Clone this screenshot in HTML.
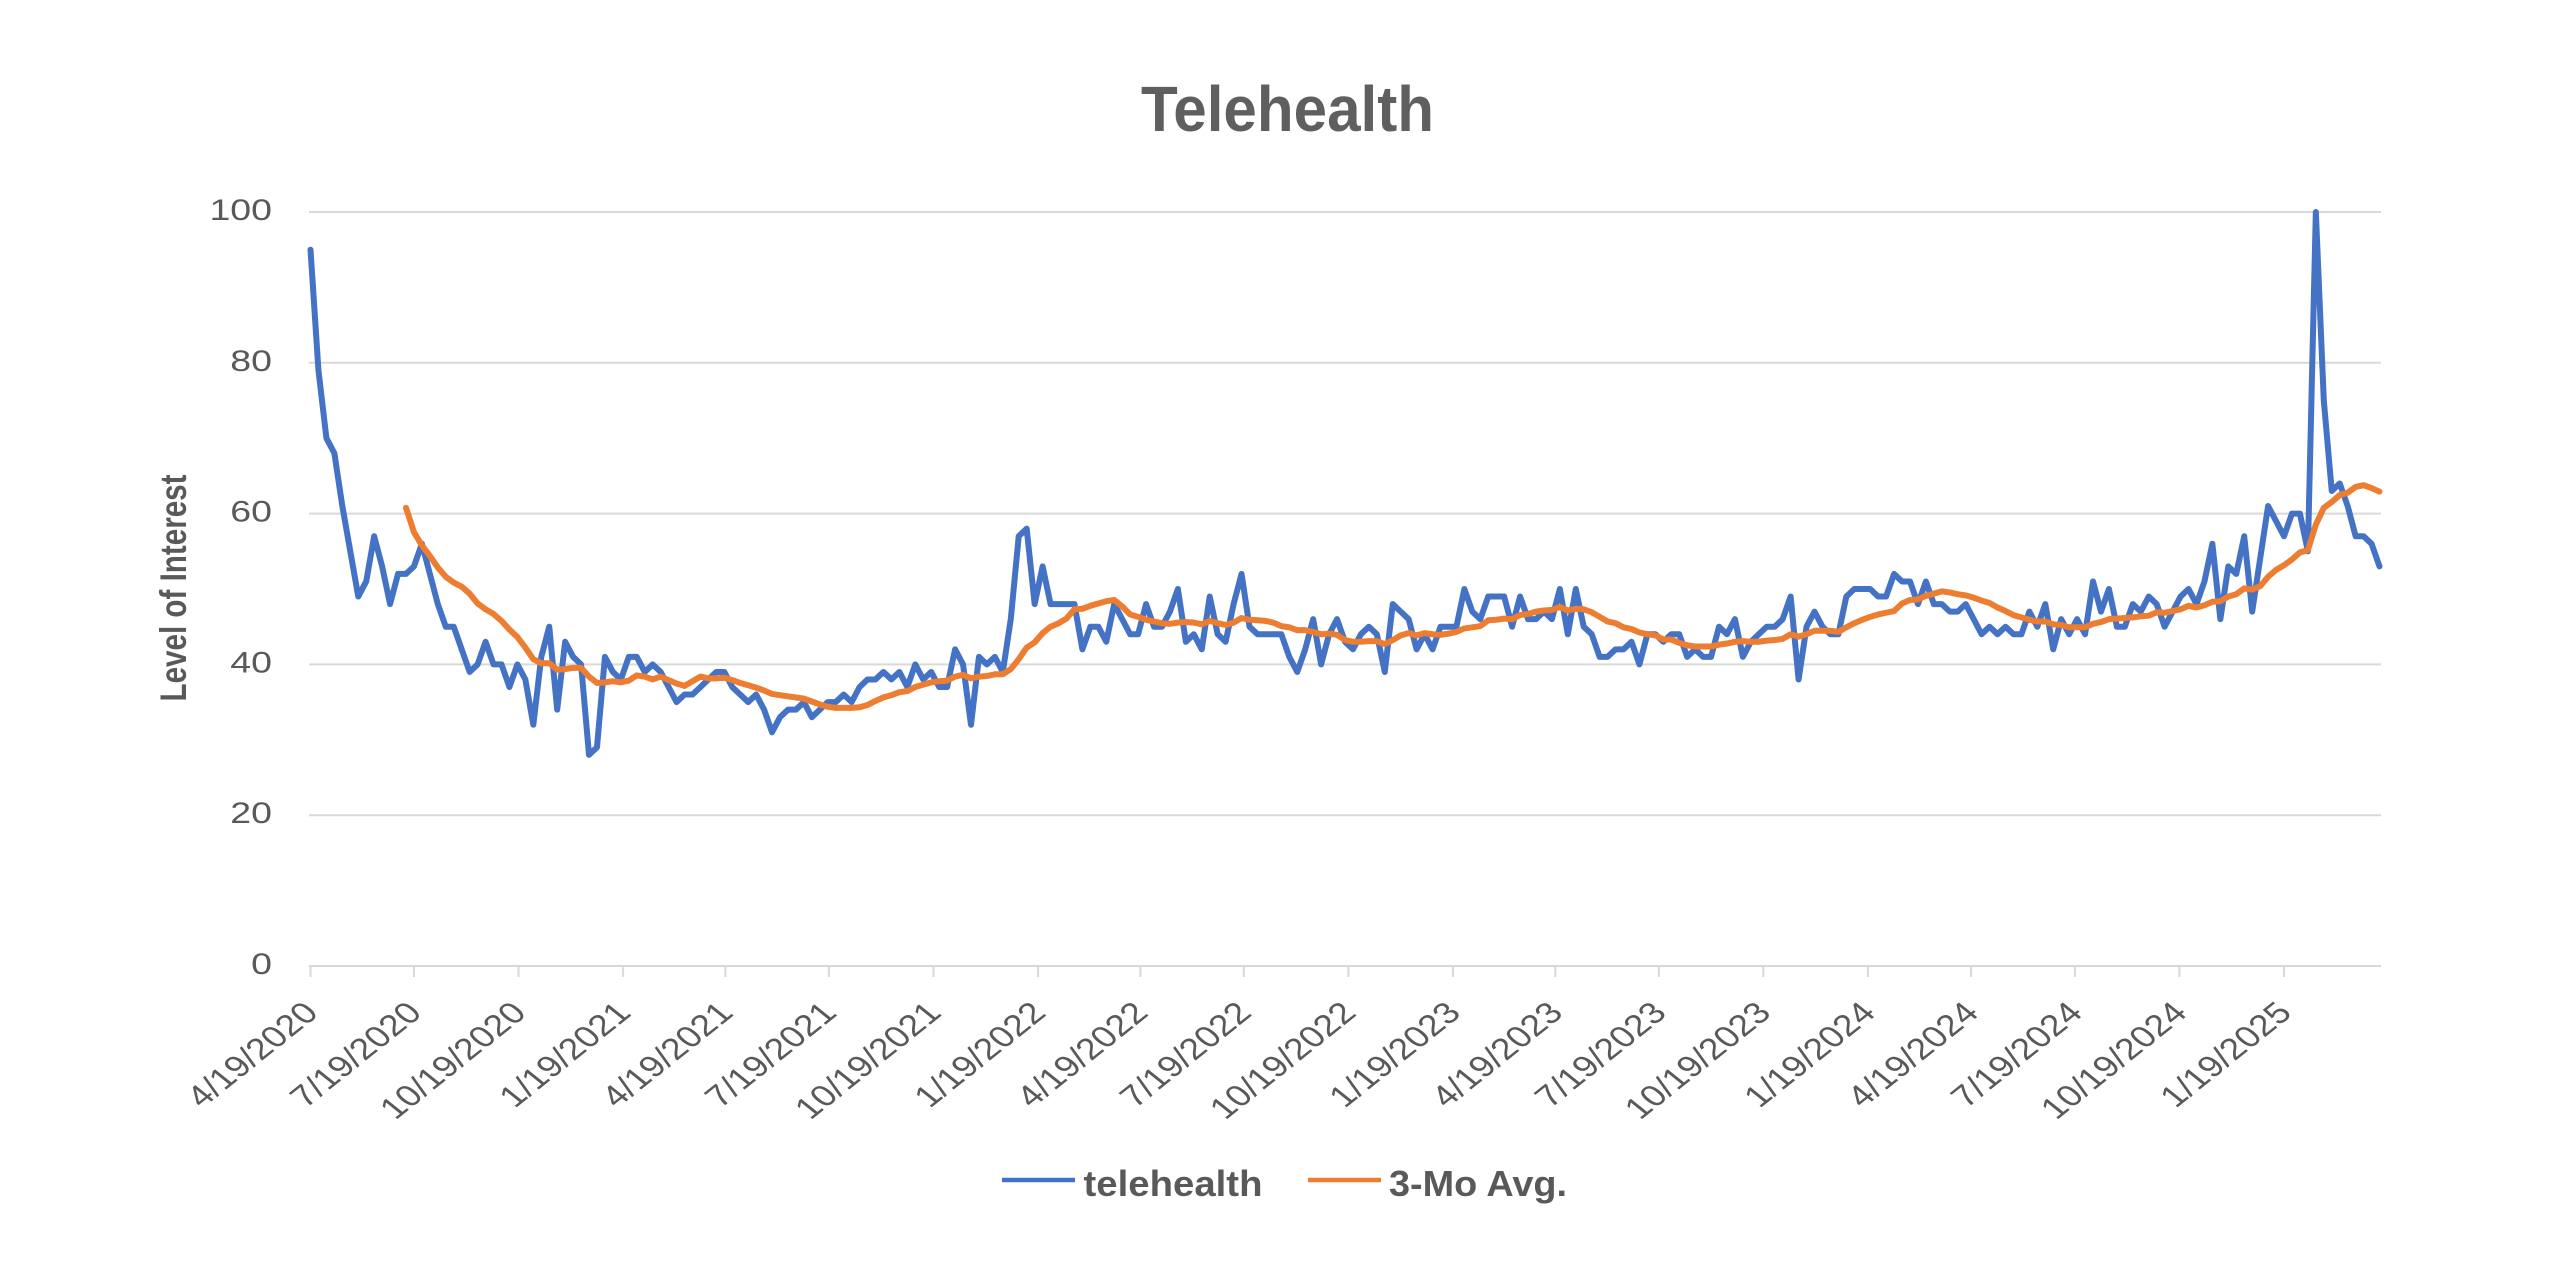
<!DOCTYPE html>
<html>
<head>
<meta charset="utf-8">
<style>
  html,body{margin:0;padding:0;background:#ffffff;}
  svg{display:block;}
  text{font-family:"Liberation Sans", Arial, sans-serif;}
</style>
</head>
<body>
<svg width="2560" height="1284" viewBox="0 0 2560 1284" xmlns="http://www.w3.org/2000/svg">
  <rect x="0" y="0" width="2560" height="1284" fill="#ffffff"/>

  <!-- Title -->
  <text x="1141" y="131" font-size="64" font-weight="bold" fill="#5f5f5f" textLength="293" lengthAdjust="spacingAndGlyphs">Telehealth</text>

  <!-- Gridlines -->
  <g stroke="#d9d9d9" stroke-width="2">
    <line x1="309" y1="212" x2="2381" y2="212"/>
    <line x1="309" y1="362.8" x2="2381" y2="362.8"/>
    <line x1="309" y1="513.6" x2="2381" y2="513.6"/>
    <line x1="309" y1="664.4" x2="2381" y2="664.4"/>
    <line x1="309" y1="815.2" x2="2381" y2="815.2"/>
    <line x1="309" y1="966" x2="2381" y2="966"/>
  </g>

  <!-- X tick marks -->
  <g stroke="#d9d9d9" stroke-width="2">
    <line x1="310.5" y1="966" x2="310.5" y2="977"/>
    <line x1="414" y1="966" x2="414" y2="977"/>
    <line x1="518.5" y1="966" x2="518.5" y2="977"/>
    <line x1="623.1" y1="966" x2="623.1" y2="977"/>
    <line x1="725.4" y1="966" x2="725.4" y2="977"/>
    <line x1="828.9" y1="966" x2="828.9" y2="977"/>
    <line x1="933.5" y1="966" x2="933.5" y2="977"/>
    <line x1="1038.1" y1="966" x2="1038.1" y2="977"/>
    <line x1="1140.4" y1="966" x2="1140.4" y2="977"/>
    <line x1="1243.8" y1="966" x2="1243.8" y2="977"/>
    <line x1="1348.4" y1="966" x2="1348.4" y2="977"/>
    <line x1="1453" y1="966" x2="1453" y2="977"/>
    <line x1="1555.3" y1="966" x2="1555.3" y2="977"/>
    <line x1="1658.8" y1="966" x2="1658.8" y2="977"/>
    <line x1="1763.3" y1="966" x2="1763.3" y2="977"/>
    <line x1="1867.9" y1="966" x2="1867.9" y2="977"/>
    <line x1="1971" y1="966" x2="1971" y2="977"/>
    <line x1="2074.9" y1="966" x2="2074.9" y2="977"/>
    <line x1="2179.4" y1="966" x2="2179.4" y2="977"/>
    <line x1="2284" y1="966" x2="2284" y2="977"/>
  </g>

  <!-- Y tick labels -->
  <g font-size="30" fill="#595959" text-anchor="end">
    <text transform="translate(272,220) scale(1.25,1)">100</text>
    <text transform="translate(272,370.8) scale(1.25,1)">80</text>
    <text transform="translate(272,521.6) scale(1.25,1)">60</text>
    <text transform="translate(272,672.4) scale(1.25,1)">40</text>
    <text transform="translate(272,823.2) scale(1.25,1)">20</text>
    <text transform="translate(272,974) scale(1.25,1)">0</text>
  </g>

  <!-- Y axis title -->
  <text transform="translate(186,588) scale(1.25,1) rotate(-90)" font-size="29.6" font-weight="bold" fill="#595959" text-anchor="middle">Level of Interest</text>

  <!-- X tick labels -->
  <g font-size="30" fill="#595959" text-anchor="end">
    <text transform="translate(320,1014.5) scale(1.25,1) rotate(-45)">4/19/2020</text>
    <text transform="translate(423.5,1014.5) scale(1.25,1) rotate(-45)">7/19/2020</text>
    <text transform="translate(528,1014.5) scale(1.25,1) rotate(-45)">10/19/2020</text>
    <text transform="translate(632.6,1014.5) scale(1.25,1) rotate(-45)">1/19/2021</text>
    <text transform="translate(734.9,1014.5) scale(1.25,1) rotate(-45)">4/19/2021</text>
    <text transform="translate(838.4,1014.5) scale(1.25,1) rotate(-45)">7/19/2021</text>
    <text transform="translate(943,1014.5) scale(1.25,1) rotate(-45)">10/19/2021</text>
    <text transform="translate(1047.6,1014.5) scale(1.25,1) rotate(-45)">1/19/2022</text>
    <text transform="translate(1149.9,1014.5) scale(1.25,1) rotate(-45)">4/19/2022</text>
    <text transform="translate(1253.3,1014.5) scale(1.25,1) rotate(-45)">7/19/2022</text>
    <text transform="translate(1357.9,1014.5) scale(1.25,1) rotate(-45)">10/19/2022</text>
    <text transform="translate(1462.5,1014.5) scale(1.25,1) rotate(-45)">1/19/2023</text>
    <text transform="translate(1564.8,1014.5) scale(1.25,1) rotate(-45)">4/19/2023</text>
    <text transform="translate(1668.3,1014.5) scale(1.25,1) rotate(-45)">7/19/2023</text>
    <text transform="translate(1772.8,1014.5) scale(1.25,1) rotate(-45)">10/19/2023</text>
    <text transform="translate(1877.4,1014.5) scale(1.25,1) rotate(-45)">1/19/2024</text>
    <text transform="translate(1980.5,1014.5) scale(1.25,1) rotate(-45)">4/19/2024</text>
    <text transform="translate(2084.4,1014.5) scale(1.25,1) rotate(-45)">7/19/2024</text>
    <text transform="translate(2188.9,1014.5) scale(1.25,1) rotate(-45)">10/19/2024</text>
    <text transform="translate(2293.5,1014.5) scale(1.25,1) rotate(-45)">1/19/2025</text>
  </g>

  <!-- Series: telehealth (blue) -->
  <g transform="translate(310.5,966) scale(7.9577,-7.54)">
    <polyline fill="none" stroke="#4472c4" stroke-width="6" stroke-linejoin="round" stroke-linecap="round" vector-effect="non-scaling-stroke"
      points="0,95 1,79 2,70 3,68 4,61 5,55 6,49 7,51 8,57 9,53 10,48 11,52 12,52 13,53 14,56 15,52 16,48 17,45 18,45 19,42 20,39 21,40 22,43 23,40 24,40 25,37 26,40 27,38 28,32 29,41 30,45 31,34 32,43 33,41 34,40 35,28 36,29 37,41 38,39 39,38 40,41 41,41 42,39 43,40 44,39 45,37 46,35 47,36 48,36 49,37 50,38 51,39 52,39 53,37 54,36 55,35 56,36 57,34 58,31 59,33 60,34 61,34 62,35 63,33 64,34 65,35 66,35 67,36 68,35 69,37 70,38 71,38 72,39 73,38 74,39 75,37 76,40 77,38 78,39 79,37 80,37 81,42 82,40 83,32 84,41 85,40 86,41 87,39 88,46 89,57 90,58 91,48 92,53 93,48 94,48 95,48 96,48 97,42 98,45 99,45 100,43 101,48 102,46 103,44 104,44 105,48 106,45 107,45 108,47 109,50 110,43 111,44 112,42 113,49 114,44 115,43 116,48 117,52 118,45 119,44 120,44 121,44 122,44 123,41 124,39 125,42 126,46 127,40 128,44 129,46 130,43 131,42 132,44 133,45 134,44 135,39 136,48 137,47 138,46 139,42 140,44 141,42 142,45 143,45 144,45 145,50 146,47 147,46 148,49 149,49 150,49 151,45 152,49 153,46 154,46 155,47 156,46 157,50 158,44 159,50 160,45 161,44 162,41 163,41 164,42 165,42 166,43 167,40 168,44 169,44 170,43 171,44 172,44 173,41 174,42 175,41 176,41 177,45 178,44 179,46 180,41 181,43 182,44 183,45 184,45 185,46 186,49 187,38 188,45 189,47 190,45 191,44 192,44 193,49 194,50 195,50 196,50 197,49 198,49 199,52 200,51 201,51 202,48 203,51 204,48 205,48 206,47 207,47 208,48 209,46 210,44 211,45 212,44 213,45 214,44 215,44 216,47 217,45 218,48 219,42 220,46 221,44 222,46 223,44 224,51 225,47 226,50 227,45 228,45 229,48 230,47 231,49 232,48 233,45 234,47 235,49 236,50 237,48 238,51 239,56 240,46 241,53 242,52 243,57 244,47 245,54 246,61 247,59 248,57 249,60 250,60 251,55 252,100 253,75 254,63 255,64 256,61 257,57 258,57 259,56 260,53"/>
  </g>

  <!-- Series: 3-Mo Avg. (orange) -->
  <g transform="translate(310.5,966) scale(7.9577,-7.54)">
    <polyline fill="none" stroke="#ed7d31" stroke-width="6" stroke-linejoin="round" stroke-linecap="round" vector-effect="non-scaling-stroke"
      points="12,60.77 13,57.54 14,55.77 15,54.38 16,52.85 17,51.62 18,50.85 19,50.31 20,49.38 21,48.08 22,47.31 23,46.69 24,45.77 25,44.62 26,43.62 27,42.23 28,40.69 29,40.15 30,40.15 31,39.31 32,39.38 33,39.54 34,39.54 35,38.38 36,37.54 37,37.62 38,37.77 39,37.62 40,37.85 41,38.54 42,38.38 43,38 44,38.38 45,37.92 46,37.46 47,37.15 48,37.77 49,38.38 50,38.15 51,38.15 52,38.23 53,37.92 54,37.54 55,37.23 56,36.92 57,36.54 58,36.08 59,35.92 60,35.77 61,35.62 62,35.46 63,35.08 64,34.69 65,34.38 66,34.23 67,34.23 68,34.23 69,34.31 70,34.62 71,35.15 72,35.62 73,35.92 74,36.31 75,36.46 76,37 77,37.31 78,37.62 79,37.77 80,37.85 81,38.38 82,38.62 83,38.15 84,38.38 85,38.46 86,38.69 87,38.69 88,39.38 89,40.69 90,42.23 91,42.92 92,44.15 93,45 94,45.46 95,46.08 96,47.31 97,47.38 98,47.77 99,48.08 100,48.38 101,48.54 102,47.69 103,46.62 104,46.31 105,45.92 106,45.69 107,45.46 108,45.38 109,45.54 110,45.62 111,45.54 112,45.31 113,45.77 114,45.46 115,45.23 116,45.54 117,46.15 118,45.92 119,45.85 120,45.77 121,45.54 122,45.08 123,44.92 124,44.54 125,44.54 126,44.31 127,44 128,44.08 129,43.92 130,43.23 131,43 132,43 133,43.08 134,43.08 135,42.69 136,43.23 137,43.85 138,44.15 139,43.85 140,44.15 141,44 142,43.92 143,44.08 144,44.31 145,44.77 146,44.92 147,45.08 148,45.85 149,45.92 150,46.08 151,46 152,46.54 153,46.69 154,47 155,47.15 156,47.23 157,47.62 158,47.15 159,47.38 160,47.31 161,46.92 162,46.31 163,45.69 164,45.46 165,44.92 166,44.69 167,44.23 168,44 169,43.85 170,43.31 171,43.31 172,42.85 173,42.54 174,42.38 175,42.38 176,42.38 177,42.62 178,42.77 179,43 180,43.08 181,43 182,43 183,43.15 184,43.23 185,43.38 186,44 187,43.69 188,44 189,44.46 190,44.46 191,44.46 192,44.31 193,44.92 194,45.46 195,45.92 196,46.31 197,46.62 198,46.85 199,47.08 200,48.08 201,48.54 202,48.62 203,49.08 204,49.38 205,49.69 206,49.54 207,49.31 208,49.15 209,48.85 210,48.46 211,48.15 212,47.54 213,47.08 214,46.54 215,46.23 216,45.92 217,45.69 218,45.69 219,45.31 220,45.23 221,44.92 222,44.92 223,44.92 224,45.38 225,45.62 226,46 227,46.08 228,46.15 229,46.23 230,46.38 231,46.46 232,46.92 233,46.85 234,47.08 235,47.31 236,47.77 237,47.54 238,47.85 239,48.31 240,48.38 241,49 242,49.31 243,50.08 244,49.92 245,50.38 246,51.62 247,52.54 248,53.15 249,53.92 250,54.85 251,55.15 252,58.54 253,60.77 254,61.54 255,62.46 256,62.77 257,63.54 258,63.77 259,63.38 260,62.92"/>
  </g>

  <!-- Legend -->
  <line x1="1002" y1="1180" x2="1075" y2="1180" stroke="#4472c4" stroke-width="4.5"/>
  <text x="1083.5" y="1196" font-size="36.5" font-weight="bold" fill="#595959" textLength="179" lengthAdjust="spacingAndGlyphs">telehealth</text>
  <line x1="1308" y1="1180" x2="1381" y2="1180" stroke="#ed7d31" stroke-width="4.5"/>
  <text x="1389" y="1196" font-size="36.5" font-weight="bold" fill="#595959" textLength="178" lengthAdjust="spacingAndGlyphs">3-Mo Avg.</text>
</svg>
</body>
</html>
